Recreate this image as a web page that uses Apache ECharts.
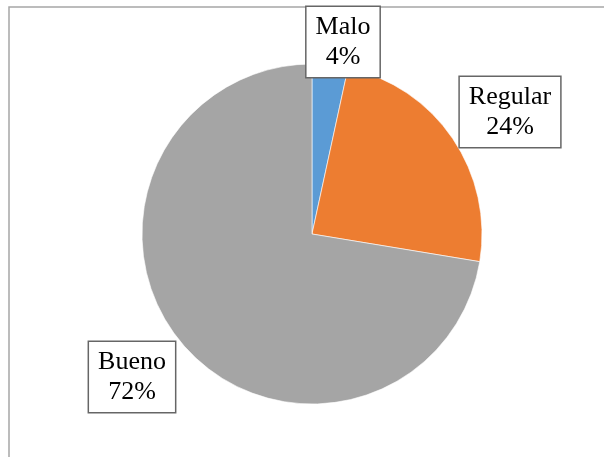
<!DOCTYPE html>
<html>
<head>
<meta charset="utf-8">
<script src="https://cdn.jsdelivr.net/npm/echarts@6/dist/echarts.min.js"></script>
<style>
html,body{margin:0;padding:0;background:#fff;}
#chart{width:604px;height:457px;}
</style>
</head>
<body>
<div id="chart"></div>
<script>
// Data
var categories = ['Malo', 'Regular', 'Bueno'];
var shares = [3.4, 24.2, 72.4];          // slice sizes (from wedge angles)
var percentLabels = ['4%', '24%', '72%']; // printed labels
var colors = ['#5B9BD5', '#ED7D31', '#A5A5A5'];

// label box centres (layout only)
var labelPos = [[343, 42], [510, 112], [132, 377]];

var chart = echarts.init(document.getElementById('chart'), null, {renderer: 'canvas'});
var data = categories.map(function (c, i) {
  return {name: c, value: shares[i], pct: percentLabels[i], itemStyle: {color: colors[i]}};
});

chart.setOption({
  backgroundColor: '#ffffff',
  animation: false,
  graphic: [{
    type: 'rect',
    shape: {x: 9, y: 7, width: 800, height: 800},
    style: {fill: 'none', stroke: '#a6a6a6', lineWidth: 1.5},
    z: 0
  }],
  series: [{
    type: 'pie',
    center: [312, 234],
    radius: 170,
    startAngle: 90,
    clockwise: true,
    avoidLabelOverlap: false,
    itemStyle: {borderColor: '#ffffff', borderWidth: 0.6},
    label: {
      show: true,
      position: 'outside',
      formatter: function (p) { return p.name + '\n' + p.data.pct; },
      fontFamily: '"Liberation Serif", "Times New Roman", serif',
      fontSize: 26,
      lineHeight: 30,
      color: '#000',
      align: 'center',
      backgroundColor: '#ffffff',
      borderColor: '#666666',
      borderWidth: 1.5,
      padding: [5, 9, 5, 9]
    },
    labelLine: {show: false},
    labelLayout: function (params) {
      var p = labelPos[params.dataIndex];
      return {x: p[0], y: p[1], align: 'center', verticalAlign: 'middle'};
    },
    emphasis: {disabled: true},
    data: data
  }]
});
</script>
</body>
</html>
